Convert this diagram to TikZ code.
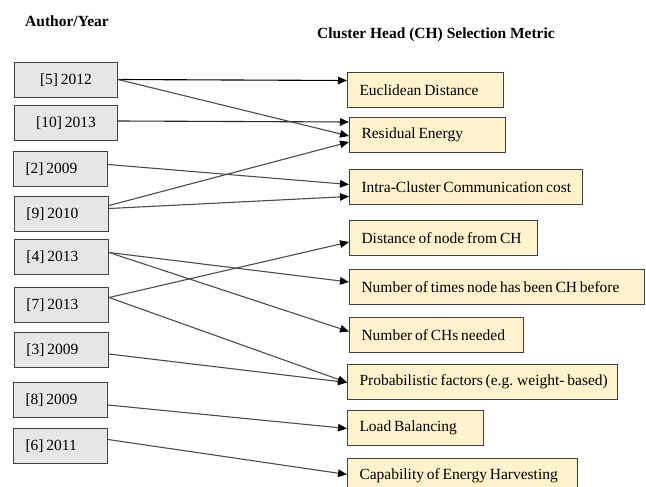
\documentclass[tikz,border=0pt]{standalone}
\usepackage{fontspec}
\setmainfont{Liberation Serif}
\usetikzlibrary{arrows.meta}

\definecolor{authorfill}{HTML}{E6E6E6}
\definecolor{metricfill}{HTML}{FFF2CC}
\definecolor{boxline}{HTML}{404040}

% fixed-width line of text, tight word spacing
\newcommand{\tightline}[2]{\spaceskip=0.18em\relax\makebox[#1][l]{#2}}

\tikzset{
	box/.style={draw=boxline, line width=1pt, anchor=north west,
		inner xsep=12pt, inner ysep=0pt, minimum height=35pt,
		font=\fontsize{15.5}{18}\selectfont},
	author/.style={box, fill=authorfill},
	authorwide/.style={box, fill=authorfill, minimum width=103pt},
	metric/.style={box, fill=metricfill},
	heading/.style={font=\fontsize{15.5}{18}\selectfont\bfseries},
	link/.style={line width=1.1pt, draw=black!70, -{Triangle[length=9pt,width=7.5pt,color=black]}}
}

\begin{document}
\begin{tikzpicture}[x=1pt,y=-1pt]
	
	\useasboundingbox (0,0) rectangle (646,487);
	
	% Headings
	\node [heading] (authors) at (67,21) {Author/Year};
	\node [heading] (metrics) at (436,35) {Cluster Head (CH) Selection Metric};
	
	% Authors
	\node [authorwide] (a5)  at (14,62)  {\spaceskip=0.18em [5] 2012};
	\node [authorwide] (a10) at (14,105) {\spaceskip=0.18em [10] 2013};
	\node [author] (a2) at (13,151) {\tightline{70pt}{[2] 2009}};
	\node [author] (a9) at (14,196) {\tightline{70pt}{[9] 2010}};
	\node [author] (a4) at (14,239) {\tightline{70pt}{[4] 2013}};
	\node [author] (a7) at (14,287) {\tightline{70pt}{[7] 2013}};
	\node [author] (a3) at (14,332) {\tightline{70pt}{[3] 2009}};
	\node [author] (a8) at (13,382) {\tightline{70pt}{[8] 2009}};
	\node [author] (a6) at (13,428) {\tightline{70pt}{[6] 2011}};
	
	% Metrics
	\node [metric] (eu) at (347,72)  {\tightline{132pt}{Euclidean Distance}};
	\node [metric] (re) at (349,117) {\tightline{132pt}{Residual Energy}};
	\node [metric] (ic) at (349,169) {\tightline{209pt}{Intra-Cluster Communication cost}};
	\node [metric] (dn) at (349,220) {\tightline{164pt}{Distance of node from CH}};
	\node [metric] (nt) at (349,269) {\tightline{271pt}{Number of times node has been CH before}};
	\node [metric] (nc) at (349,317) {\tightline{150pt}{Number of CHs needed}};
	\node [metric] (pf) at (347,364) {\tightline{246pt}{Probabilistic factors (e.g. weight- based)}};
	\node [metric] (lb) at (347,410) {\tightline{112pt}{Load Balancing}};
	\node [metric] (ce) at (347,458) {\tightline{206pt}{Capability of Energy Harvesting}};
	
	% Arrows
	\draw [link, draw=black] ([yshift=0.5pt]a5.east) -- ([yshift=9.5pt]eu.west);
	\draw [link, draw=black!85] ([yshift=2pt]a10.east) -- ([yshift=13pt]re.west);
	\foreach \s/\ds/\t/\dt in {a5/0.5/re/-1, a2/4.5/ic/2.5, a9/8.5/re/-7, a9/5.5/ic/-9.5,
		a4/4.5/nt/5, a4/4.5/nc/3.5, a7/7.5/dn/-4, a7/7.5/pf/-0.5, a3/-4/pf/-0.5,
		a8/-5/lb/-0.5, a6/6.5/ce/1.5} {
		\draw [link] ([yshift=\ds pt]\s.east) -- ([yshift=\dt pt]\t.west);
	}
	
\end{tikzpicture}
\end{document}
